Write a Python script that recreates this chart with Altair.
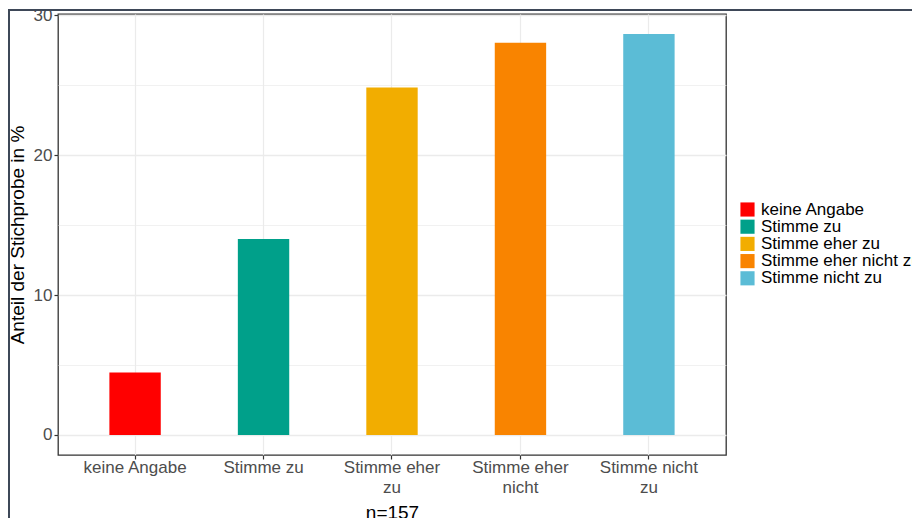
import json
import altair as alt
import pandas as pd

# ---- data ----
categories = ["keine Angabe", "Stimme zu", "Stimme eher zu", "Stimme eher nicht zu", "Stimme nicht zu"]
axis_labels = [["keine Angabe"], ["Stimme zu"], ["Stimme eher", "zu"], ["Stimme eher", "nicht"], ["Stimme nicht", "zu"]]
percent = [4.46, 14.01, 24.84, 28.03, 28.66]
colors = ["#FF0000", "#00A08A", "#F2AD00", "#F98400", "#5BBCD6"]
y_ticks = [0, 5, 10, 15, 20, 25, 30]
n_label = "n=157"
y_title = "Anteil der Stichprobe in %"

df = pd.DataFrame({"cat": categories, "pct": percent})

FONT = "Liberation Sans"

# label expression for wrapped x labels
expr = "''"
for c, lab in reversed(list(zip(categories, axis_labels))):
    expr = f"datum.value == {json.dumps(c)} ? {json.dumps(lab)} : ({expr})"

ymax = max(percent)
ypad = 0.05 * ymax

x_enc = alt.X(
    "cat:N",
    sort=categories,
    scale=alt.Scale(paddingInner=0.6, paddingOuter=0.4),
    axis=alt.Axis(
        title=n_label,
        titleFont=FONT,
        titleFontSize=19,
        titleFontWeight="normal",
        titleColor="#000000",
        titlePadding=8,
        labelExpr=expr,
        labelFont=FONT,
        labelFontSize=17,
        labelColor="#4D4D4D",
        labelLineHeight=20,
        labelPadding=0,
        labelAngle=0,
        tickColor="#333333",
        tickSize=4,
        tickWidth=1.2,
        domain=False,
        grid=True,
        gridColor="#EBEBEB",
        gridWidth=1.2,
    ),
)

y_enc = alt.Y(
    "pct:Q",
    scale=alt.Scale(domain=[-ypad, ymax + ypad], nice=False, zero=False),
    axis=alt.Axis(
        title=y_title,
        titleFont=FONT,
        titleFontSize=19,
        titleFontWeight="normal",
        titleColor="#000000",
        titlePadding=6,
        values=y_ticks,
        labelExpr="datum.value % 10 === 0 ? datum.label : ''",
        labelFont=FONT,
        labelFontSize=17,
        labelColor="#4D4D4D",
        labelPadding=2,
        tickColor="#333333",
        tickSize=4,
        tickWidth=1.2,
        tickOpacity={"condition": {"test": "datum.value % 10 === 0", "value": 1}, "value": 0},
        domain=False,
        grid=True,
        gridColor="#EBEBEB",
        gridWidth={"condition": {"test": "datum.value % 10 === 0", "value": 1.3}, "value": 0.7},
    ),
)

bars = alt.Chart(df).mark_bar().encode(
    x=x_enc,
    y=y_enc,
    y2=alt.datum(0),
    color=alt.Color(
        "cat:N",
        sort=categories,
        scale=alt.Scale(domain=categories, range=colors),
        legend=alt.Legend(
            title=None,
            orient="none",
            legendX=681,
            legendY=187,
            symbolType="square",
            symbolSize=200,
            symbolStrokeWidth=0,
            labelFont=FONT,
            labelFontSize=17,
            labelColor="#000000",
            labelOffset=5,
            rowPadding=-0.8,
            padding=0,
        ),
    ),
)

frame = alt.Chart(pd.DataFrame({"f": [0]})).mark_rect(
    fill=None, stroke="#3E4858", strokeWidth=2, clip=False
).encode(
    x=alt.value(-49),
    x2=alt.value(1200),
    y=alt.value(-4),
    y2=alt.value(1200),
)

chart = alt.layer(frame, bars).properties(
    width=668,
    height=441,
    padding={"left": 50, "top": 6, "right": 186, "bottom": 70},
    autosize=alt.AutoSizeParams(type="none"),
    background="#FFFFFF",
).configure_view(
    stroke="#333333", strokeWidth=1.3
)

chart.save("out.html", embed_options={"renderer": "svg", "actions": False})
